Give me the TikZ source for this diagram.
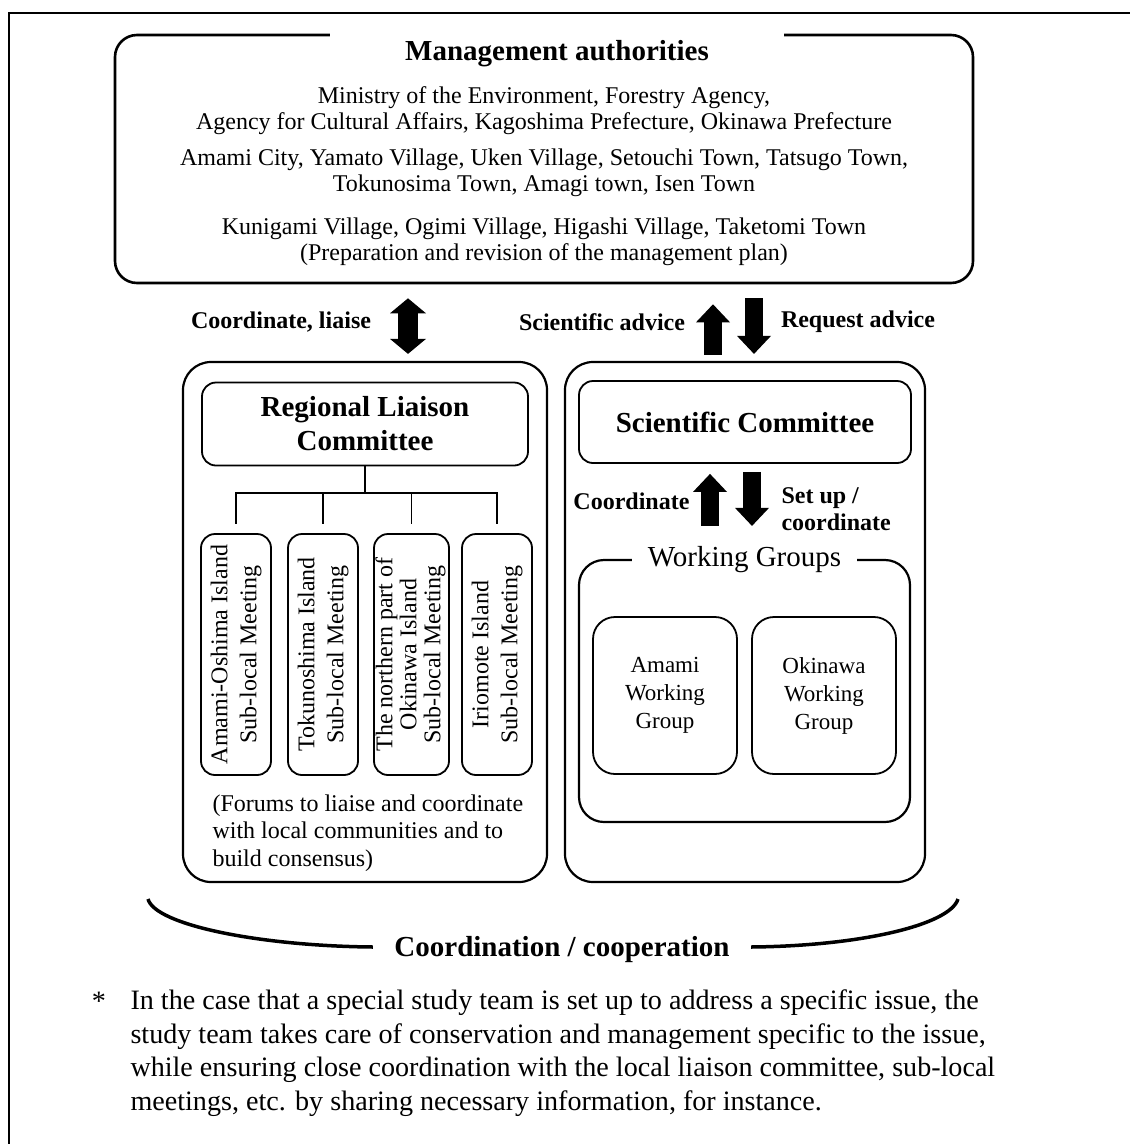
\documentclass[tikz,border=0pt]{standalone}
\usepackage{fontspec}
\setmainfont{Liberation Serif}
\usepackage{graphicx}
\usetikzlibrary{arrows.meta}

\newcommand{\bodysize}{\fontsize{24}{26}\selectfont}
\newcommand{\headsize}{\fontsize{29}{34}\selectfont\bfseries}

\begin{document}
\begin{tikzpicture}[x=1pt, y=-1pt,
  mgmtbox/.style={draw, line width=2.6pt, rounded corners=22pt, minimum width=858pt, minimum height=248pt},
  groupbox/.style={draw, line width=2.2pt, rounded corners=28pt, minimum height=520pt},
  combox/.style={draw, line width=1.8pt, rounded corners=14pt, minimum height=83pt, font=\headsize, align=center},
  subbox/.style={draw, line width=1.8pt, rounded corners=14pt, minimum height=241pt, inner sep=0pt},
  wgframe/.style={draw, line width=2.2pt, rounded corners=25pt, minimum width=331pt, minimum height=262pt},
  wgbox/.style={draw, line width=1.8pt, rounded corners=22pt, minimum width=144pt, minimum height=157pt,
    font=\fontsize{23}{28}\selectfont, align=center},
  gaptitle/.style={fill=white, inner xsep=0pt, inner ysep=10pt},
  arrowlabel/.style={font=\fontsize{24}{27}\selectfont\bfseries, align=left},
  treeline/.style={line width=1.8pt},
  fatup/.style={line width=18pt, -{Triangle[width=34pt,length=18pt,line width=0pt]}},
  fatboth/.style={line width=20pt, {Triangle[width=36pt,length=15pt,line width=0pt]}-{Triangle[width=36pt,length=15pt,line width=0pt]}}
]
  \useasboundingbox (0,0) rectangle (1130,1144);

  % outer frame (only top and left visible)
  \draw[line width=2pt] (1130,13) -- (9,13) -- (9,1144);

  % management authorities
  \node[mgmtbox] (mgmt) at (544,159) {};
  \node[gaptitle, minimum width=454pt, font=\headsize] (mgmttitle) at (557,54) {Management authorities};
  \node[font=\bodysize, align=center] (mgmtbody) at (544,176)
    {Ministry of the Environment, Forestry Agency,\\
     Agency for Cultural Affairs, Kagoshima Prefecture, Okinawa Prefecture\\[10pt]
     Amami City, Yamato Village, Uken Village, Setouchi Town, Tatsugo Town,\\
     Tokunosima Town, Amagi town, Isen Town\\[17pt]
     Kunigami Village, Ogimi Village, Higashi Village, Taketomi Town\\
     (Preparation and revision of the management plan)};

  % the two groups
  \node[groupbox, minimum width=364pt] (regbox) at (365,622) {};
  \node[groupbox, minimum width=360pt] (scibox) at (745,622) {};

  % arrows to the management authorities
  \draw[fatboth] ([xshift=-136pt,yshift=-14pt]mgmt.south) -- ([xshift=43pt,yshift=7pt]regbox.north);
  \draw[fatup] ([xshift=-32pt,yshift=6pt]scibox.north) -- ([xshift=169pt,yshift=-20pt]mgmt.south);
  \draw[fatup] ([xshift=210pt,yshift=-14pt]mgmt.south) -- ([xshift=9pt,yshift=7pt]scibox.north);
  \node[arrowlabel] (liaiselabel) at (281,322) {Coordinate, liaise};
  \node[arrowlabel] (advicelabel) at (602,322) {Scientific advice};
  \node[arrowlabel] (requestlabel) at (858,322) {Request advice};

  % regional liaison committee
  \node[combox, minimum width=326pt] (rlc) at (365,424) {Regional Liaison\\Committee};
  \node[subbox, minimum width=70pt] (sub1) at (236,654.5)
    {\rotatebox{90}{\fontsize{24}{29}\selectfont\begin{tabular}{@{}c@{}}Amami-Oshima Island\\Sub-local Meeting\end{tabular}}};
  \node[subbox, minimum width=70pt] (sub2) at (323,654.5)
    {\rotatebox{90}{\fontsize{24}{29}\selectfont\begin{tabular}{@{}c@{}}Tokunoshima Island\\Sub-local Meeting\end{tabular}}};
  \node[subbox, minimum width=75pt] (sub3) at (411.5,654.5)
    {\rotatebox{90}{\fontsize{24}{24}\selectfont\begin{tabular}{@{}c@{}}The northern part of\\Okinawa Island\\Sub-local Meeting\end{tabular}}};
  \node[subbox, minimum width=70pt] (sub4) at (497,654.5)
    {\rotatebox{90}{\fontsize{24}{29}\selectfont\begin{tabular}{@{}c@{}}Iriomote Island\\Sub-local Meeting\end{tabular}}};

  % tree lines
  \coordinate (fork) at (365,493);
  \draw[treeline] (rlc.south) -- (fork);
  \foreach \s in {sub1,sub2,sub3,sub4}
    \draw[treeline, shorten >=9pt] (fork) -| (\s.north);

  \node[font=\fontsize{24}{27.5}\selectfont, align=left, anchor=west] (forums) at (209,833)
    {(Forums to liaise and coordinate\\with local communities and to\\build consensus)};

  % scientific committee and working groups
  \node[combox, minimum width=332pt, minimum height=82pt] (sc) at (745,422) {Scientific Committee};
  \node[wgframe] (wg) at (744.5,691) {};
  \node[gaptitle, minimum width=225pt, font=\fontsize{29}{32}\selectfont] (wgtitle) at (744.5,560) {Working Groups};
  \node[wgbox] (amamiwg) at (665,695.5) {Amami\\Working\\Group};
  \node[wgbox] (okinawawg) at (824,695.5) {Okinawa\\Working\\Group};

  \draw[fatup] ([xshift=-34.5pt,yshift=33pt]wg.north) -- ([xshift=-35pt,yshift=-10pt]sc.south);
  \draw[fatup] ([xshift=7pt,yshift=-8pt]sc.south) -- ([xshift=7.5pt,yshift=33pt]wg.north);
  \node[arrowlabel, anchor=east] (coordlabel) at (693,501) {Coordinate};
  \node[arrowlabel, anchor=west] (setuplabel) at (778,509) {Set up /\\coordinate};

  % coordination brace
  \node[font=\headsize] (coop) at (562,950) {Coordination / cooperation};
  \draw[line width=3.5pt] (148,899) .. controls (155,925) and (260,946) .. ([xshift=-18pt,yshift=3pt]coop.west);
  \draw[line width=3.5pt] ([xshift=18pt,yshift=3pt]coop.east) .. controls (860,946) and (950,925) .. (958,899);

  % footnote
  \node[font=\fontsize{28.1}{33.5}\selectfont, anchor=base] (star) at (99,1010) {*};
  \node[font=\fontsize{28.1}{33.5}\selectfont, align=left, anchor=west] (note) at (127,1053)
    {In the case that a special study team is set up to address a specific issue, the\\
     study team takes care of conservation and management specific to the issue,\\
     while ensuring close coordination with the local liaison committee, sub-local\\
     meetings, etc. by sharing necessary information, for instance.};
\end{tikzpicture}
\end{document}
